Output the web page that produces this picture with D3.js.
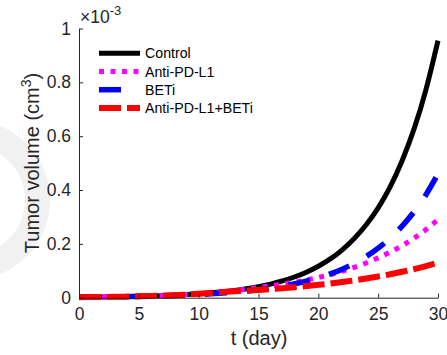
<!DOCTYPE html>
<html>
<head>
<meta charset="utf-8">
<script src="https://cdn.jsdelivr.net/npm/d3@7"></script>
<style>
  html, body { margin: 0; padding: 0; background: #fff; }
  svg { display: block; font-family: "Liberation Sans", Arial, Helvetica, sans-serif; }
</style>
</head>
<body>
<svg id="chart" width="447" height="355"></svg>
<script>
// ---- data (tumor volume in units of 1e-3 cm^3) ----
const days = d3.range(0, 31);
const control   = [0.0018,0.0022,0.0027,0.0033,0.0041,0.0050,0.0062,0.0076,0.0094,0.0116,0.0143,0.0177,0.0218,0.0269,0.0332,0.0409,0.0505,0.0623,0.0769,0.0948,0.117,0.144,0.178,0.220,0.271,0.334,0.412,0.509,0.627,0.774,0.955];
const antiPDL1  = [0.0018,0.0022,0.0027,0.0033,0.0041,0.0050,0.0062,0.0076,0.0094,0.0116,0.0143,0.0177,0.0215,0.0260,0.0320,0.0383,0.0438,0.0501,0.0574,0.0657,0.0752,0.086,0.0985,0.113,0.129,0.148,0.169,0.193,0.221,0.253,0.290];
const beti      = [0.0019,0.0023,0.0027,0.0033,0.0039,0.0047,0.0057,0.0068,0.0082,0.0099,0.0119,0.0142,0.0171,0.0205,0.0246,0.0296,0.0355,0.0427,0.0512,0.0615,0.0738,0.0887,0.106,0.128,0.153,0.184,0.221,0.266,0.319,0.383,0.460];
const combo     = [0.0018,0.0022,0.0027,0.0033,0.0041,0.0050,0.0062,0.0076,0.0094,0.0116,0.0143,0.0175,0.0210,0.0238,0.0263,0.029,0.0321,0.0354,0.0391,0.0433,0.0478,0.0528,0.0584,0.0645,0.0713,0.0788,0.0871,0.0963,0.1064,0.1176,0.130];
const seriesNames = ["Control", "Anti-PD-L1", "BETi", "Anti-PD-L1+BETi"];
const xTicks = [0, 5, 10, 15, 20, 25, 30];
const yTicks = [0, 0.2, 0.4, 0.6, 0.8, 1];
const yTickLabels = ["0", "0.2", "0.4", "0.6", "0.8", "1"];

const seriesData = [control, antiPDL1, beti, combo];
const styles = [
  { color: "#000000", width: 5,   dash: null },
  { color: "#ff00ff", width: 5,   dash: "5 6.5" },
  { color: "#0000ff", width: 5.5, dash: "22 20" },
  { color: "#ff0000", width: 6,   dash: "22 6" }
];

const svg = d3.select("#chart");
const axisColor = "#262626";

// watermark-like faint ring at left
svg.append("path")
  .attr("transform", "translate(-30,200)")
  .attr("d", d3.arc().innerRadius(55).outerRadius(80).startAngle(0).endAngle(2 * Math.PI)())
  .attr("fill", "#f1f1f1");

const x = d3.scaleLinear().domain([0, 30]).range([79, 438]);
const y = d3.scaleLinear().domain([0, 1]).range([297.7, 28.5]);

// curves
const line = d3.line().x((d, i) => x(days[i])).y(d => y(d)).curve(d3.curveNatural);
seriesData.forEach((s, k) => {
  const p = svg.append("path")
    .datum(s)
    .attr("d", line)
    .attr("fill", "none")
    .attr("stroke", styles[k].color)
    .attr("stroke-width", styles[k].width)
    .attr("stroke-linecap", "butt")
    .attr("stroke-linejoin", "round");
  if (styles[k].dash) p.attr("stroke-dasharray", styles[k].dash);
});

// axes
const xAxis = d3.axisBottom(x).tickValues(xTicks).tickSizeInner(-4).tickSizeOuter(0).tickPadding(10);
const gx = svg.append("g").attr("transform", "translate(0,297.7)").call(xAxis);
const yAxis = d3.axisLeft(y).tickValues(yTicks).tickFormat((d, i) => yTickLabels[i]).tickSizeInner(-4).tickSizeOuter(0).tickPadding(8);
const gy = svg.append("g").attr("transform", "translate(79,0)").call(yAxis);
[gx, gy].forEach(g => {
  g.select(".domain").attr("stroke", axisColor).attr("stroke-width", 1);
  g.selectAll(".tick line").attr("stroke", axisColor).attr("stroke-width", 1);
  g.selectAll(".tick text").attr("fill", axisColor).style("font-size", "17.5px")
    .style("font-family", "'Liberation Sans', Arial, sans-serif");
});

// axis labels
svg.append("text")
  .attr("x", 259).attr("y", 345)
  .attr("text-anchor", "middle")
  .attr("fill", axisColor)
  .style("font-size", "20px")
  .text("t (day)");

const yl = svg.append("text")
  .attr("transform", "translate(39,163) rotate(-90)")
  .attr("text-anchor", "middle")
  .attr("fill", axisColor)
  .style("font-size", "20px");
yl.append("tspan").text("Tumor volume (cm");
yl.append("tspan").attr("dy", -8).style("font-size", "14px").text("3");
yl.append("tspan").attr("dy", 8).text(")");

// exponent
const ex = svg.append("text")
  .attr("x", 80).attr("y", 23)
  .attr("fill", axisColor)
  .style("font-size", "17.5px");
ex.append("tspan").text("×10");
ex.append("tspan").attr("dy", -8).style("font-size", "13px").text("-3");

// legend
const lg = svg.append("g");
seriesNames.forEach((name, k) => {
  const yy = 53.3 + k * 18.2;
  const l = lg.append("line")
    .attr("x1", 99).attr("x2", 140)
    .attr("y1", yy).attr("y2", yy)
    .attr("stroke", styles[k].color)
    .attr("stroke-width", styles[k].width)
    .attr("stroke-linecap", "butt");
  if (styles[k].dash) l.attr("stroke-dasharray", styles[k].dash);
  lg.append("text")
    .attr("x", 145).attr("y", yy + 5)
    .attr("fill", "#000")
    .style("font-size", "14.2px")
    .text(name);
});
</script>
</body>
</html>
